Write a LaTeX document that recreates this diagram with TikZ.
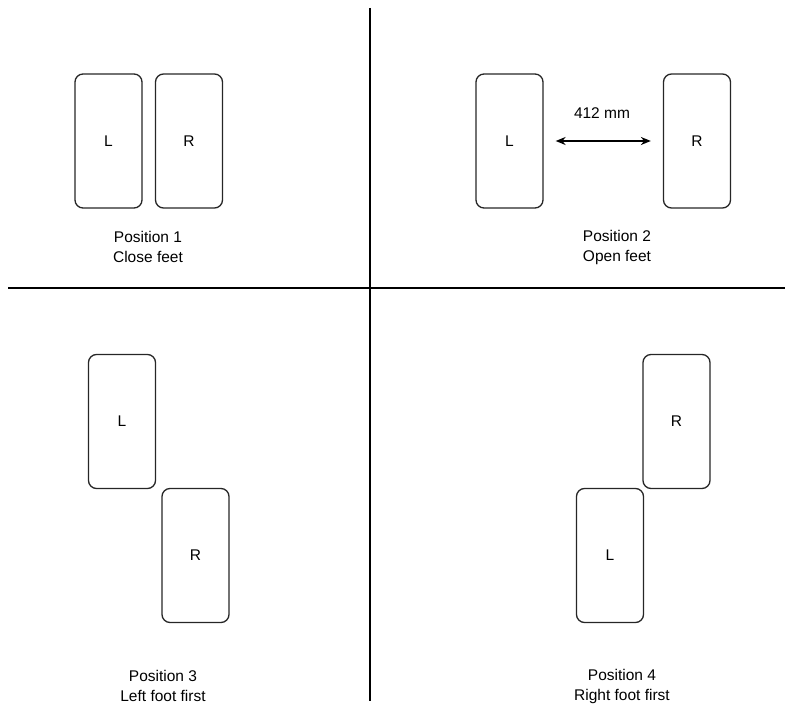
\documentclass[tikz,border=0pt]{standalone}
\usepackage{fontspec}
\setmainfont{Liberation Sans}
\usetikzlibrary{arrows.meta}
\begin{document}
\begin{tikzpicture}[x=1pt,y=-1pt,
  foot/.style={draw=black!85, line width=1.3pt, rounded corners=8pt, minimum width=67pt, minimum height=134pt, inner sep=0pt, font=\fontsize{15.5}{18}\selectfont},
  caption/.style={align=center, font=\fontsize{15.5}{20}\selectfont, inner sep=0pt},
  divider/.style={draw=black, line width=1.3pt}]
\useasboundingbox (0,0) rectangle (785,708);
% dividers
\coordinate (vt) at (370,8);
\coordinate (vb) at (370,701);
\coordinate (hl) at (8,288);
\coordinate (hr) at (785,288);
\draw[divider] (vt) -- (vb);
\draw[divider] (hl) -- (hr);
% Position 1
\node[foot] (p1L) at (108.5,141) {L};
\node[foot] (p1R) at (189,141) {R};
\node[caption] (c1) at (148,247) {Position 1\\Close feet};
% Position 2
\node[foot] (p2L) at (509.5,141) {L};
\node[foot] (p2R) at (697,141) {R};
\draw[{Stealth[length=10pt,width=8pt]}-{Stealth[length=10pt,width=8pt]}, line width=1.3pt] ([xshift=12pt]p2L.east) -- ([xshift=-12pt]p2R.west);
\node[font=\fontsize{15.5}{18}\selectfont, inner sep=0pt] (d2) at (602,113) {412 mm};
\node[caption] (c2) at (617,247) {Position 2\\Open feet};
% Position 3
\node[foot] (p3L) at (122,421.5) {L};
\node[foot] (p3R) at (195.5,555.5) {R};
\node[caption] (c3) at (163,686) {Position 3\\Left foot first};
% Position 4
\node[foot] (p4R) at (676.5,421.5) {R};
\node[foot] (p4L) at (610,555.5) {L};
\node[caption] (c4) at (622,686) {Position 4\\Right foot first};
\end{tikzpicture}
\end{document}
